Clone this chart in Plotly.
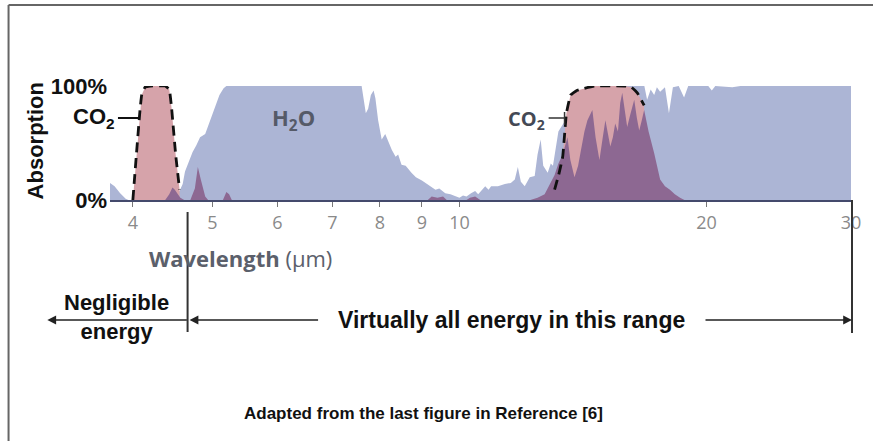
import plotly.graph_objects as go

# ---------------- data (wavelength in µm, absorption in %) ----------------
h2o_wl = [3.75, 3.80, 3.86, 3.92, 3.95, 4.45, 4.47, 4.52, 4.56, 4.60, 4.63, 4.68, 4.73, 4.78,
          4.83, 4.90, 4.96, 5.00, 5.05, 5.10, 5.16, 5.20, 7.60, 7.65, 7.69, 7.74, 7.80, 7.86,
          7.90, 7.96, 8.04, 8.12, 8.20, 8.27, 8.36, 8.42, 8.50, 8.60, 8.74, 8.85, 9.00, 9.12,
          9.24, 9.35, 9.45, 9.61, 9.75, 9.90, 10.0, 10.1, 10.2, 10.33, 10.45, 10.54, 10.75,
          10.85, 10.93, 11.14, 11.36, 11.55, 11.68, 11.78, 11.88, 12.01, 12.18, 12.35, 12.45,
          12.56, 12.65, 12.81, 12.92, 13.0, 13.2, 14.0, 14.5, 16.8, 16.93, 17.1, 17.27, 17.4,
          17.56, 17.8, 18.0, 18.2, 18.5, 18.78, 19.0, 20.1, 20.3, 20.5, 21.5, 22.0, 30.0]
h2o_abs = [15, 12, 6, 1, 0, 0, 2, 6, 8, 14, 25, 33, 42, 48,
           55, 58, 68, 76, 84, 92, 98, 100, 100, 88, 76, 80, 92, 96,
           89, 70, 53, 58, 50, 44, 38, 40, 31, 30, 24, 20, 17, 14,
           11, 9, 10, 6, 5, 3, 2, 4, 3, 6, 8, 5, 12,
           9, 12, 12, 14, 15, 18, 29, 16, 12, 20, 21, 40,
           53, 30, 24, 32, 30, 60, 90, 100, 100, 88, 97, 92, 99,
           95, 99, 76, 99, 100, 90, 100, 100, 96, 100, 99, 100, 100]

co2_band1_wl = [4.00, 4.04, 4.08, 4.10, 4.14, 4.20, 4.38, 4.43, 4.46, 4.51, 4.56]
co2_band1_abs = [0, 40, 78, 92, 99, 100, 100, 97, 80, 40, 9]

co2_band2_wl = [13.06, 13.23, 13.36, 13.50, 13.66, 13.90, 14.20, 14.60, 15.90, 16.20, 16.47, 16.79]
co2_band2_abs = [9, 24, 38, 76, 92, 96, 98, 100, 100, 99, 94, 83]

overlap_wl = [4.38, 4.43, 4.47, 4.50, 4.53, 4.57, 4.62, 4.70, 4.76, 4.80, 4.84, 4.90, 4.94,
              5.15, 5.20, 5.24, 5.28, 9.15, 9.25, 9.40, 9.55, 9.65, 10.2, 10.3, 10.45, 10.6,
              12.2, 12.45, 12.7, 12.92, 13.06, 13.2, 13.36, 13.54, 13.65, 13.81, 13.95, 14.04,
              14.2, 14.32, 14.45, 14.52, 14.65, 14.81, 14.95, 15.06, 15.17, 15.27, 15.38, 15.48,
              15.6, 15.7, 15.79, 15.9, 16.01, 16.15, 16.33, 16.45, 16.56, 16.68, 16.79, 17.0,
              17.27, 17.56, 17.8, 18.05, 18.3, 18.57, 18.8]
overlap_abs = [0, 5, 11, 9, 6, 2, 0, 0, 10, 29, 18, 3, 0,
               0, 7, 5, 0, 0, 3, 2, 3, 0, 0, 2, 3, 0,
               0, 2, 5, 15, 22, 32, 40, 55, 35, 20, 30, 41,
               60, 70, 75, 79, 55, 35, 55, 70, 58, 47, 55, 67,
               60, 85, 94, 78, 64, 75, 88, 72, 61, 70, 79, 60,
               41, 18, 12, 9, 5, 2, 0]

x_ticks = [4, 5, 6, 7, 8, 9, 10, 20, 30]
x_tick_labels = ["4", "5", "6", "7", "8", "9", "10", "20", "30"]
y_ticks = [0, 100]
y_tick_labels = ["<b>0%</b>", "<b>100%</b>"]

# ---------------- styling / layout ----------------
W, H = 873, 441
L, R, T, B = 110, 855, 86, 200


def px(x):
    return (x - L) / (R - L)


def py(y):
    return (B - y) / (B - T)


BLUE = "rgb(172,181,213)"
PINK = "rgb(214,163,170)"
PURPLE = "rgb(141,104,146)"
ARIAL = "Liberation Sans, Arial, sans-serif"
MYRIAD = "Open Sans, sans-serif"

fig = go.Figure()
fig.add_trace(go.Scatter(x=h2o_wl, y=h2o_abs, mode="lines", fill="tozeroy",
                         fillcolor=BLUE, line=dict(width=0, color=BLUE), hoverinfo="skip"))
for wl, ab in [(co2_band1_wl, co2_band1_abs), (co2_band2_wl, co2_band2_abs)]:
    poly_x = [wl[0]] + wl + [wl[-1]]
    poly_y = [0] + ab + [0]
    fig.add_trace(go.Scatter(x=poly_x, y=poly_y, mode="lines", fill="toself",
                             fillcolor=PINK, line=dict(width=0, color=PINK), hoverinfo="skip"))
fig.add_trace(go.Scatter(x=overlap_wl, y=overlap_abs, mode="lines", fill="tozeroy",
                         fillcolor=PURPLE, line=dict(width=0, color=PURPLE), hoverinfo="skip"))
for wl, ab in [(co2_band1_wl, co2_band1_abs), (co2_band2_wl, co2_band2_abs)]:
    fig.add_trace(go.Scatter(x=wl, y=ab, mode="lines",
                             line=dict(width=2.8, color="#111", dash="10px,6px", shape="spline",
                                       smoothing=0.3),
                             hoverinfo="skip"))

fig.update_layout(
    width=W, height=H, showlegend=False,
    margin=dict(l=L, r=W - R, t=T, b=H - B, pad=0),
    paper_bgcolor="white", plot_bgcolor="white",
    xaxis=dict(type="log", range=[0.5742, 1.4771], tickvals=x_ticks, ticktext=x_tick_labels,
               showgrid=False, zeroline=False, showline=True, linecolor="#444a6c", linewidth=2,
               ticks="outside", ticklen=5, tickcolor="#777", tickwidth=1,
               tickfont=dict(family=MYRIAD, size=18, color="#8a8a8a")),
    yaxis=dict(range=[0, 100], tickvals=y_ticks, ticktext=y_tick_labels,
               showgrid=True, gridcolor="#dddddd", gridwidth=1, zeroline=False,
               showline=False, ticks="", ticklabelstandoff=2,
               tickfont=dict(family=ARIAL, size=22, color="#111")),
)


def label(x, y, text, font, xanchor="center", **kw):
    return dict(x=px(x), y=py(y), xref="paper", yref="paper", text=text, showarrow=False,
                xanchor=xanchor, yanchor="middle", font=font, **kw)


ann = []
ann.append(label(35, 141, "<b>Absorption</b>", dict(family=ARIAL, size=22, color="#111"),
                 textangle=-90))
ann.append(label(147, 258, "<b>Wavelength</b> (µm)", dict(family=MYRIAD, size=22, color="#5b606b"),
                 xanchor="left"))
ann.append(label(117, 118, "<b>CO<sub>2</sub></b>", dict(family=ARIAL, size=22, color="#111"),
                 xanchor="right"))
ann.append(label(294, 119, "<b>H<sub>2</sub>O</b>", dict(family=MYRIAD, size=22, color="#555a68")))
ann.append(label(549, 119, "<b>CO<sub>2</sub></b>", dict(family=MYRIAD, size=20, color="#444955"),
                 xanchor="right"))
ann.append(label(117, 317, "<b>Negligible<br>energy</b>", dict(family=ARIAL, size=22, color="#111")))
ann.append(label(514, 320, "<b>Virtually all energy in this range</b>",
                 dict(family=ARIAL, size=23, color="#111")))
ann.append(label(425, 413, "<b>Adapted from the last figure in Reference [6]</b>",
                 dict(family=ARIAL, size=17, color="#111")))
for tip, tail in [(47, 188), (190, 320), (856, 708)]:
    ann.append(dict(x=px(tip), y=py(320), xref="paper", yref="paper", ax=tail - tip, ay=0,
                    text="", showarrow=True, arrowhead=2, arrowsize=1.1, arrowwidth=1.6,
                    arrowcolor="#222"))
fig.update_layout(annotations=ann)


def seg(x0, y0, x1, y1, color, width):
    return dict(type="line", xref="paper", yref="paper", x0=px(x0), x1=px(x1),
                y0=py(y0), y1=py(y1), line=dict(color=color, width=width))


shapes = [
    seg(8, 5, 880, 5, "#666", 2),
    seg(8, 5, 8, 445, "#666", 2),
    seg(188, 212, 188, 332, "#333", 2),
    seg(856, 200, 856, 333, "#333", 2),
    seg(118, 118, 140, 118, "#111", 2),
    seg(551, 118, 567, 118, "#333", 1.5),
    seg(567, 112, 567, 125, "#333", 1.5),
]
fig.update_layout(shapes=shapes)

fig.write_html("out.html", config={"displayModeBar": False},
               post_script="document.body.style.margin='0';document.body.style.padding='0';"
                           "window.dispatchEvent(new Event('resize'));")
